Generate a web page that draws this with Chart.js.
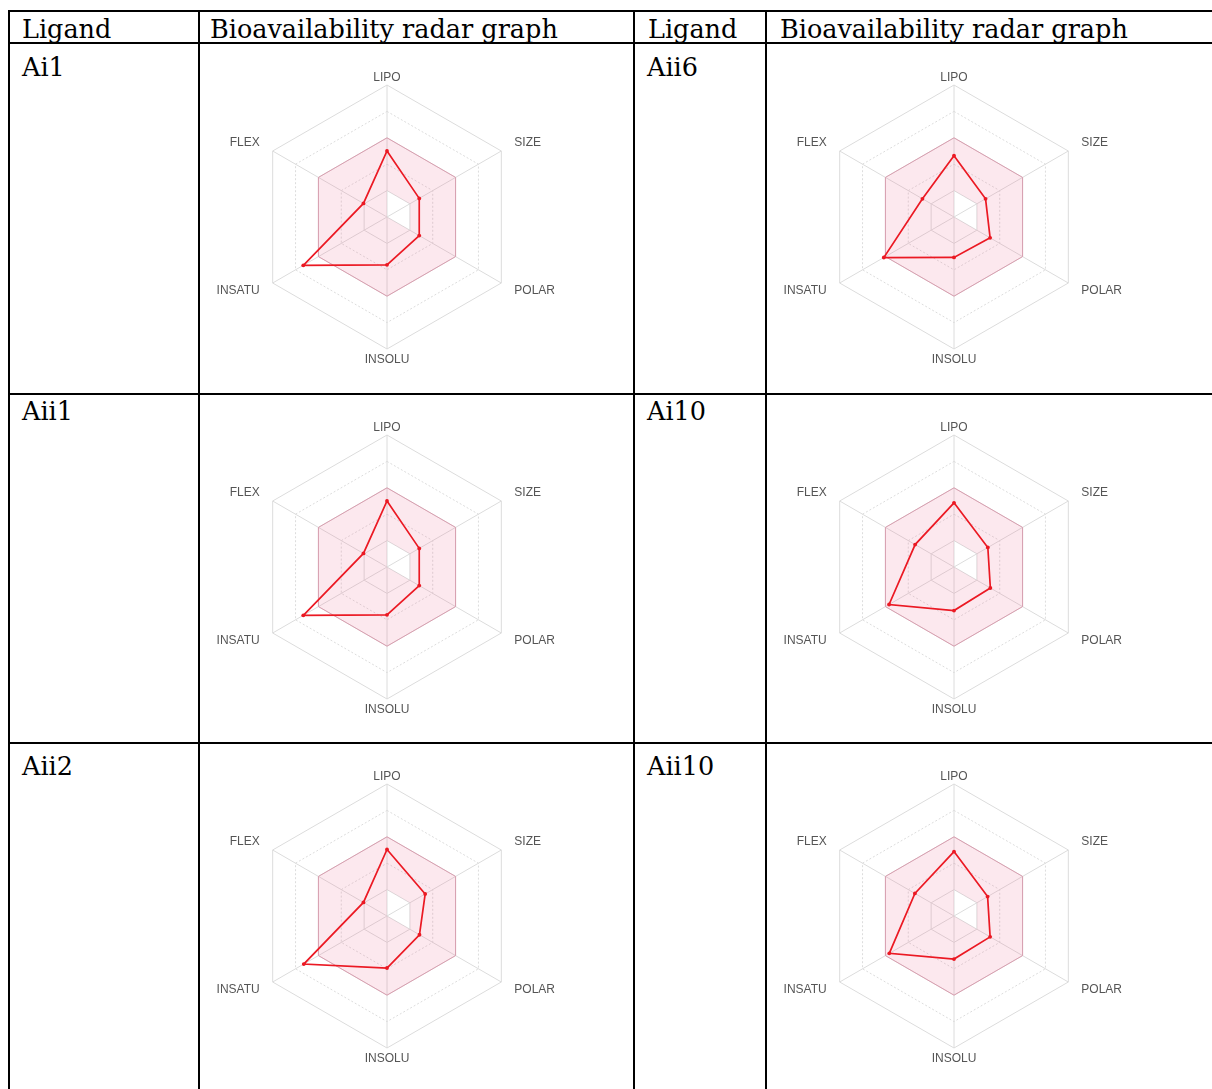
<!DOCTYPE html>
<html>
<head>
<meta charset="utf-8">
<script src="https://cdn.jsdelivr.net/npm/chart.js@4.4.1/dist/chart.umd.min.js"></script>
<style>
	body { margin: 0; width: 1212px; height: 1089px; overflow: hidden; background: #fff; position: relative; }
	.hl, .vl { position: absolute; background: #000; }
	.hl { left: 8px; width: 1204px; height: 2px; }
	.vl { top: 10px; height: 1079px; width: 2px; }
	.txt { position: absolute; font-family: "DejaVu Serif", serif; font-size: 25.5px; line-height: 30px; color: #000; white-space: nowrap; }
	canvas { position: absolute; }
</style>
</head>
<body>

<!-- table lines -->
<div class="hl" style="top:10px"></div>
<div class="hl" style="top:42px"></div>
<div class="hl" style="top:393px"></div>
<div class="hl" style="top:742px"></div>
<div class="vl" style="left:8px"></div>
<div class="vl" style="left:198px"></div>
<div class="vl" style="left:633px"></div>
<div class="vl" style="left:765px"></div>

<!-- header -->
<div class="txt" style="left:22px; top:14px">Ligand</div>
<div class="txt" style="left:210px; top:14px">Bioavailability radar graph</div>
<div class="txt" style="left:648px; top:14px">Ligand</div>
<div class="txt" style="left:780px; top:14px">Bioavailability radar graph</div>

<!-- ligand names -->
<div class="txt" style="left:22px; top:52px">Ai1</div>
<div class="txt" style="left:647px; top:52px">Aii6</div>
<div class="txt" style="left:22px; top:396px">Aii1</div>
<div class="txt" style="left:647px; top:396px">Ai10</div>
<div class="txt" style="left:22px; top:751px">Aii2</div>
<div class="txt" style="left:647px; top:751px">Aii10</div>

<canvas id="radarAi1" width="400" height="298" style="left:187px; top:70px"></canvas>
<canvas id="radarAii6" width="400" height="298" style="left:754px; top:70px"></canvas>
<canvas id="radarAii1" width="400" height="298" style="left:187px; top:420px"></canvas>
<canvas id="radarAi10" width="400" height="298" style="left:754px; top:420px"></canvas>
<canvas id="radarAii2" width="400" height="298" style="left:187px; top:769px"></canvas>
<canvas id="radarAii10" width="400" height="298" style="left:754px; top:769px"></canvas>

<script>
// BIOAVAILABILITY RADARS

const radarLabels = ["LIPO", "SIZE", "POLAR", "INSOLU", "INSATU", "FLEX"];

// values (0 = centre, 5 = outer ring)
const ai1 = [2.5, 1.41, 1.41, 1.81, 3.66, 1.03];
const aii6 = [2.32, 1.38, 1.58, 1.53, 3.07, 1.38];
const aii1 = [2.5, 1.41, 1.41, 1.81, 3.66, 1.03];
const ai10 = [2.43, 1.48, 1.59, 1.65, 2.84, 1.7];
const aii2 = [2.52, 1.67, 1.42, 1.97, 3.64, 1.03];
const aii10 = [2.44, 1.47, 1.58, 1.63, 2.83, 1.71];

// pink optimal range
const rangeUpper = [3, 3, 3, 3, 3, 3];
const rangeLower = [1, 1, 1, 0, 0, 0];

const gridGrey = "#dcdcdc";

// label gap from the outer ring, per axis
const labelPadding = [1, 15, 15, 5, 15, 15];

function makeRadar(canvasId, values) {
	return new Chart(document.getElementById(canvasId), {
		type: "radar",
		data: {
			labels: radarLabels,
			datasets: [
				{
					data: values,
					borderColor: "rgb(235, 25, 35)",
					backgroundColor: "rgb(235, 25, 35)",
					borderWidth: 1.7,
					pointRadius: 1.9,
					pointBorderWidth: 0,
					fill: false,
				},
				{
					data: rangeUpper,
					borderColor: "rgba(214, 140, 162, 0.75)",
					backgroundColor: "rgba(236, 100, 140, 0.15)",
					borderWidth: 1,
					pointRadius: 0,
					fill: "+1",
				},
				{
					data: rangeLower,
					borderWidth: 0,
					pointRadius: 0,
					fill: false,
				},
			],
		},
		options: {
			responsive: false,
			animation: false,
			plugins: { legend: { display: false }, tooltip: { enabled: false } },
			scales: {
				r: {
					min: 0,
					max: 5,
					ticks: { display: false, stepSize: 1 },
					angleLines: { color: gridGrey, lineWidth: 1 },
					grid: { color: gridGrey, lineWidth: 1 },
					border: {
						dash: (ctx) => (ctx.tick && ctx.tick.value % 2 === 0 ? [2, 2] : []),
					},
					pointLabels: {
						color: "#555",
						// side labels sit level with their vertex
						font: (ctx) => ({
							family: "Liberation Sans",
							size: 12,
							lineHeight: ctx.index === 0 || ctx.index === 3 ? 1 : 0.1,
						}),
						padding: (ctx) => labelPadding[ctx.index],
					},
				},
			},
		},
	});
}

const radarAi1 = makeRadar("radarAi1", ai1);
const radarAii6 = makeRadar("radarAii6", aii6);
const radarAii1 = makeRadar("radarAii1", aii1);
const radarAi10 = makeRadar("radarAi10", ai10);
const radarAii2 = makeRadar("radarAii2", aii2);
const radarAii10 = makeRadar("radarAii10", aii10);
</script>
</body>
</html>
